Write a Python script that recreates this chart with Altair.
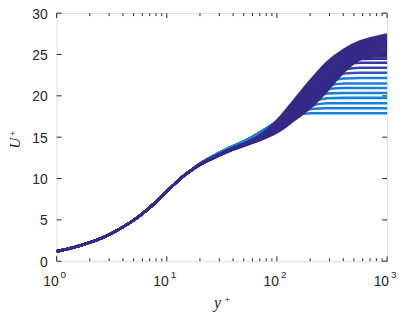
import altair as alt
import pandas as pd

# ---------------- data ----------------
# shared near-wall part of every profile
yplus_inner = [1, 1.25, 1.5, 2, 2.5, 3, 4, 5, 6, 7, 8.5, 10, 12, 14, 17]
u_inner = [1.2, 1.48, 1.76, 2.27, 2.75, 3.22, 4.14, 4.96, 5.75, 6.49, 7.52, 8.43,
           9.44, 10.24, 11.08]

# outer part, per profile
yplus_outer = [20, 28, 40, 55, 75, 105, 144, 203, 288, 407, 575, 812, 1000]

blue_profiles = [
    [11.78, 12.9, 13.9, 14.75, 15.8, 16.9, 17.6, 17.9, 17.9, 17.9, 17.9, 17.9, 17.9],
    [11.78, 12.9, 13.9, 14.75, 15.8, 16.95, 17.8, 18.4, 18.5, 18.5, 18.5, 18.5, 18.5],
    [11.78, 12.9, 13.9, 14.75, 15.8, 17.0, 17.9, 18.8, 19.1, 19.1, 19.1, 19.1, 19.1],
    [11.78, 12.9, 13.9, 14.75, 15.8, 17.0, 18.0, 19.2, 19.7, 19.75, 19.75, 19.75, 19.75],
    [11.78, 12.9, 13.9, 14.75, 15.8, 17.0, 18.0, 19.4, 20.3, 20.35, 20.35, 20.35, 20.35],
    [11.78, 12.9, 13.9, 14.75, 15.8, 17.0, 18.1, 19.6, 20.8, 20.95, 20.95, 20.95, 20.95],
    [11.78, 12.9, 13.9, 14.75, 15.8, 17.05, 18.2, 19.8, 21.2, 21.5, 21.5, 21.5, 21.5],
    [11.78, 12.9, 13.9, 14.75, 15.8, 17.1, 18.3, 20.0, 21.6, 22.1, 22.15, 22.15, 22.15],
]
blue_colors = ["#1780db"] * 8

purple_profiles = [
    [11.7, 12.7, 13.6, 14.3, 15.1, 16.3, 17.9, 19.6, 21.6, 22.7, 22.8, 22.8, 22.8],
    [11.7, 12.7, 13.6, 14.3, 15.1, 16.3, 18.0, 19.8, 21.9, 23.2, 23.4, 23.4, 23.4],
    [11.7, 12.7, 13.6, 14.3, 15.1, 16.4, 18.1, 20.0, 22.2, 23.7, 24.0, 24.0, 24.0],
    [11.7, 12.7, 13.6, 14.3, 15.1, 16.4, 18.2, 20.2, 22.4, 24.0, 24.45, 24.5, 24.5],
]
purple_colors = ["#3252bd", "#3845a8", "#393799", "#372f8e"]

dark_profiles = [
    [11.66, 12.6, 13.5, 14.15, 14.8, 15.75, 17.1, 18.6, 20.7, 22.95, 24.45, 24.8, 24.8],
    [11.66, 12.61, 13.52, 14.18, 14.86, 15.89, 17.32, 18.9, 21.01, 23.19, 24.65, 25.01, 25.04],
    [11.67, 12.63, 13.54, 14.2, 14.93, 16.03, 17.54, 19.2, 21.32, 23.43, 24.84, 25.23, 25.27],
    [11.67, 12.64, 13.55, 14.23, 14.99, 16.17, 17.75, 19.5, 21.63, 23.67, 25.04, 25.44, 25.51],
    [11.68, 12.65, 13.57, 14.26, 15.05, 16.31, 17.97, 19.8, 21.94, 23.91, 25.23, 25.66, 25.75],
    [11.68, 12.67, 13.59, 14.29, 15.12, 16.45, 18.19, 20.1, 22.25, 24.15, 25.43, 25.87, 25.98],
    [11.69, 12.68, 13.61, 14.31, 15.18, 16.6, 18.41, 20.4, 22.55, 24.39, 25.62, 26.08, 26.22],
    [11.69, 12.7, 13.63, 14.34, 15.25, 16.74, 18.63, 20.7, 22.86, 24.64, 25.82, 26.3, 26.45],
    [11.7, 12.71, 13.65, 14.37, 15.31, 16.88, 18.85, 21.0, 23.17, 24.88, 26.01, 26.51, 26.69],
    [11.7, 12.72, 13.66, 14.4, 15.37, 17.02, 19.06, 21.3, 23.48, 25.12, 26.21, 26.72, 26.93],
    [11.71, 12.74, 13.68, 14.42, 15.44, 17.16, 19.28, 21.6, 23.79, 25.36, 26.4, 26.94, 27.16],
    [11.72, 12.75, 13.7, 14.45, 15.5, 17.3, 19.5, 21.9, 24.1, 25.6, 26.6, 27.15, 27.4],
]
dark_colors = ["#352a87"] * 12

x_major_ticks = [1, 10, 100, 1000]
x_tick_exponents = ["0", "1", "2", "3"]
x_minor_ticks = [2, 3, 4, 5, 6, 7, 8, 9, 20, 30, 40, 50, 60, 70, 80, 90,
                 200, 300, 400, 500, 600, 700, 800, 900]
y_ticks = [0, 5, 10, 15, 20, 25, 30]

# ---------------- build tables ----------------
def build(profiles, colors, prefix):
    rows = []
    for i, (prof, col) in enumerate(zip(profiles, colors)):
        xs = yplus_inner + yplus_outer
        us = u_inner + prof
        for xv, uv in zip(xs, us):
            rows.append({"yplus": xv, "u": uv, "id": f"{prefix}{i}", "c": col})
    return pd.DataFrame(rows)

df_blue = build(blue_profiles, blue_colors, "b")
df_purple = build(purple_profiles, purple_colors, "p")
df_dark = build(dark_profiles, dark_colors, "d")

W, H = 333, 250
AX = "#262626"
xscale = alt.Scale(type="log", domain=[1, 1000], nice=False)
yscale = alt.Scale(domain=[0, 30], nice=False, zero=False)


def lines(df):
    return alt.Chart(df).mark_line(strokeWidth=2.6, interpolate="monotone", clip=True).encode(
        x=alt.X("yplus:Q", scale=xscale, axis=None),
        y=alt.Y("u:Q", scale=yscale, axis=None),
        detail="id:N",
        color=alt.Color("c:N", scale=None),
        order="yplus:Q",
    )


layers = [lines(df_blue), lines(df_purple), lines(df_dark)]

xmaj = pd.DataFrame({"t": x_major_ticks, "e": x_tick_exponents})
xmin = pd.DataFrame({"t": x_minor_ticks})
ytk = pd.DataFrame({"v": y_ticks, "lab": [str(v) for v in y_ticks]})

for df, ln in ((xmaj, 5), (xmin, 3)):
    base = alt.Chart(df).mark_rule(color=AX, strokeWidth=1)
    layers.append(base.encode(x=alt.X("t:Q", scale=xscale), y=alt.value(H), y2=alt.value(H - ln)))
    layers.append(base.encode(x=alt.X("t:Q", scale=xscale), y=alt.value(0), y2=alt.value(ln)))

ybase = alt.Chart(ytk).mark_rule(color=AX, strokeWidth=1)
layers.append(ybase.encode(y=alt.Y("v:Q", scale=yscale), x=alt.value(0), x2=alt.value(5)))
layers.append(ybase.encode(y=alt.Y("v:Q", scale=yscale), x=alt.value(W), x2=alt.value(W - 5)))

# tick labels
layers.append(
    alt.Chart(ytk).mark_text(align="right", baseline="middle", font="Liberation Sans",
                             fontSize=14, color=AX, dx=-9, dy=1.5)
    .encode(y=alt.Y("v:Q", scale=yscale), x=alt.value(0), text="lab:N")
)
layers.append(
    alt.Chart(xmaj).mark_text(align="right", baseline="alphabetic", font="Liberation Sans",
                              fontSize=14, color=AX, dx=2)
    .encode(x=alt.X("t:Q", scale=xscale), y=alt.value(275), text=alt.value("10"))
)
layers.append(
    alt.Chart(xmaj).mark_text(align="left", baseline="alphabetic", font="Liberation Sans",
                              fontSize=10, color=AX, dx=4)
    .encode(x=alt.X("t:Q", scale=xscale), y=alt.value(267), text="e:N")
)

# axis titles
title_df = pd.DataFrame({"k": [0]})
def ttext(txt, x, y, size, angle=0, baseline="middle", italic=True):
    return alt.Chart(title_df).mark_text(
        text=txt, font="Liberation Serif", fontStyle="italic" if italic else "normal",
        fontSize=size, color=AX, angle=angle, align="center", baseline=baseline
    ).encode(x=alt.value(x), y=alt.value(y))

layers.append(ttext("U", -42, 131, 15, angle=270))
layers.append(ttext("+", -44, 121, 10, angle=270, italic=False))
layers.append(ttext("y", 162, 297, 16, baseline="alphabetic"))
layers.append(ttext("+", 172, 289, 10, italic=False))

chart = alt.layer(*layers).properties(
    width=W, height=H,
    autosize=alt.AutoSizeParams(type="none"),
    padding={"left": 49, "top": 4, "right": 12, "bottom": 52},
).configure_view(stroke=AX, strokeWidth=1).configure(background="white")

chart.save("out.html", embed_options={"renderer": "svg", "actions": False})
